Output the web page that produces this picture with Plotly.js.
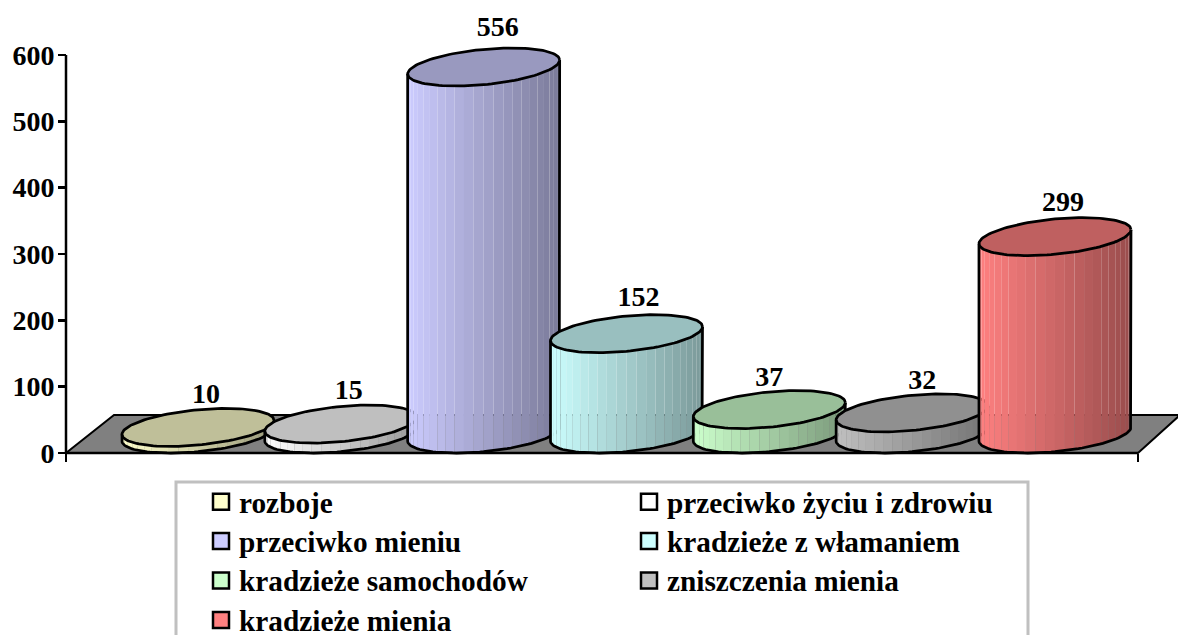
<!DOCTYPE html>
<html><head><meta charset="utf-8">
<script src="https://cdn.plot.ly/plotly-3.0.1.min.js"></script>
<style>html,body{margin:0;padding:0;background:#fff;width:1178px;height:635px;overflow:hidden}
.legend .legendtext{font-size:29.3px !important}
.legend .legendsymbols{transform:translateX(2px)}
</style>
</head><body><div id="chart"></div>
<script>
const categories = ["rozboje","przeciwko życiu i zdrowiu","przeciwko mieniu","kradzieże z włamaniem","kradzieże samochodów","zniszczenia mienia","kradzieże mienia"];
const values = [10,15,556,152,37,32,299];
const baseColors = [[255,255,204],[255,255,255],[204,204,255],[204,255,255],[204,255,204],[192,192,192],[255,128,128]];
const yTicks = [0,100,200,300,400,500,600];
const labelNudgeX = [-2,-2,4,2,-10,0,-2];
const labelNudgeY = [-5,-4,0,-2,-6,-5,-4];

const W=1178,H=660, PX0=198, PXCAT=142.83, Y0=453, PXVAL=398/600, HEIGHT_K=0.995;
const FONT='"Liberation Serif","Times New Roman",serif';
const cx=p=>(p-PX0)/PXCAT, vy=p=>(Y0-p)/PXVAL;
const R=76,K=28,HH=19, T0=Math.atan2(K,Math.sqrt(R*R-K*K)), STRIPS=24, LW=2.75;
const rgb=(c,f)=>`rgb(${c.map(v=>Math.round(v*f)).join(',')})`;
const rx=d=>d/PXCAT, ry=d=>d/PXVAL;
const traces=[];
const base={type:'scatter',mode:'lines',showlegend:false,hoverinfo:'skip'};

// floor
traces.push({...base,x:[66,114,1180,1138,66].map(cx),y:[453,415,415,453,453].map(vy),fill:'toself',fillcolor:'#808080',line:{color:'#000',width:2}});

values.forEach((val,i)=>{
  const v=val*HEIGHT_K;
  const col=baseColors[i];
  const baseC=HH/PXVAL;
  const arc=u=>[i+rx(R*Math.cos(u)), ry(HH*Math.sin(u+T0))+baseC];
  for(let s=0;s<STRIPS;s++){
    const u1=-Math.PI+Math.PI*s/STRIPS,u2=-Math.PI+Math.PI*(s+1)/STRIPS,um=(u1+u2)/2;
    const a=arc(u1),m=arc(um),b=arc(u2);
    const f=1-0.4*(1+Math.cos(um))/2;
    traces.push({...base,x:[a[0],m[0],b[0],b[0],m[0],a[0],a[0]],y:[a[1],m[1],b[1],b[1]+v,m[1]+v,a[1]+v,a[1]],
      fill:'toself',fillcolor:rgb(col,f),line:{width:0}});
  }
  const xs=[],ys=[];
  let p=arc(0); xs.push(p[0]);ys.push(p[1]+v);
  for(let k=0;k<=60;k++){const q=arc(-Math.PI*k/60);xs.push(q[0]);ys.push(q[1]);}
  p=arc(-Math.PI); xs.push(p[0]);ys.push(p[1]+v);
  traces.push({...base,x:xs,y:ys,line:{color:'#000',width:LW}});
  const ex=[],ey=[];
  for(let k=0;k<=120;k++){const q=arc(2*Math.PI*k/120);ex.push(q[0]);ey.push(q[1]+v);}
  traces.push({...base,x:ex,y:ey,fill:'toself',fillcolor:rgb(col,0.75),line:{color:'#000',width:LW}});
});

// axis lines
traces.push({...base,x:[cx(66),cx(66)],y:[0,600],line:{color:'#000',width:2.5}});
traces.push({...base,x:[cx(66),cx(1138)],y:[0,0],line:{color:'#000',width:2.5}});

// value labels
traces.push({type:'scatter',mode:'text',showlegend:false,hoverinfo:'skip',
  x:values.map((v,i)=>i+rx(10+labelNudgeX[i])),y:values.map((v,i)=>v+ry(HH+36+labelNudgeY[i])),
  text:values.map(String),textposition:'middle center',
  textfont:{family:FONT,size:28,color:'#000',weight:700}});

// legend entries
categories.forEach((c,i)=>traces.push({type:'scatter',mode:'markers',name:c,x:[null],y:[null],
  marker:{symbol:'square',size:16,color:rgb(baseColors[i],1),line:{color:'#000',width:2.5}}}));

const layout={
  width:W,height:H,margin:{l:0,r:0,t:0,b:0},paper_bgcolor:'#fff',plot_bgcolor:'#fff',
  hovermode:false,showlegend:true,
  font:{family:FONT,color:'#000'},
  xaxis:{range:[cx(0),cx(W)],domain:[0,1],anchor:'free',position:1-Y0/H,showgrid:false,zeroline:false,showline:false,
    tickmode:'array',tickvals:[cx(66),cx(1138)],ticktext:['',''],ticks:'outside',ticklen:8,tickwidth:2.5,tickcolor:'#000',fixedrange:true},
  yaxis:{range:[vy(H),vy(0)],domain:[0,1],anchor:'free',position:66/W,showgrid:false,zeroline:false,showline:false,
    tickmode:'array',tickvals:yTicks,ticktext:yTicks.map(String),ticks:'outside',ticklen:8,tickwidth:2.5,tickcolor:'#000',
    ticklabelstandoff:-2,
    tickfont:{family:FONT,size:28,color:'#000',weight:700},fixedrange:true},
  shapes:[{type:'rect',xref:'paper',yref:'paper',x0:176/W,x1:1028/W,y0:1-482/H,y1:-0.1,line:{color:'#c0c0c0',width:3},fillcolor:'#fff',layer:'below'}],
  legend:{orientation:'h',x:199/W,xanchor:'left',y:1-477/H,yanchor:'top',bgcolor:'rgba(0,0,0,0)',borderwidth:0,
    entrywidth:383,entrywidthmode:'pixels',font:{family:FONT,size:28,color:'#000',weight:700},itemclick:false,itemdoubleclick:false}
};
Plotly.newPlot('chart',traces,layout,{displayModeBar:false,staticPlot:true});
</script></body></html>
